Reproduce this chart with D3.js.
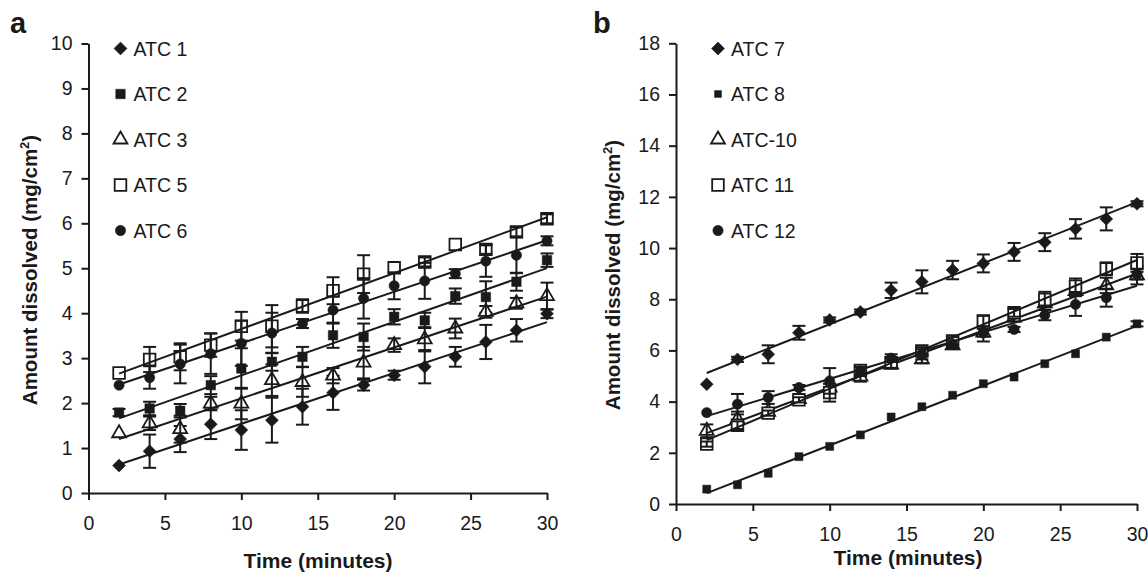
<!DOCTYPE html>
<html><head><meta charset="utf-8">
<script src="https://cdn.jsdelivr.net/npm/d3@7"></script>
<style>
html,body{margin:0;padding:0;background:#fff;}
svg text{font-family:"Liberation Sans",Arial,sans-serif;fill:#1a1a1a;}
</style></head>
<body><svg id="c" width="1148" height="573"></svg>
<script>
const times = [2,4,6,8,10,12,14,16,18,20,22,24,26,28,30];
const xTicks = [0,5,10,15,20,25,30];
const yTicksA = [0,1,2,3,4,5,6,7,8,9,10];
const yTicksB = [0,2,4,6,8,10,12,14,16,18];

// Panel a
const namesA = ["ATC 1","ATC 2","ATC 3","ATC 5","ATC 6"];
const atc1 = [0.61,0.93,1.2,1.53,1.4,1.62,1.92,2.23,2.4,2.62,2.81,3.03,3.36,3.62,3.99];
const atc1Err = [0.05,0.37,0.29,0.33,0.44,0.5,0.4,0.38,0.12,0.1,0.37,0.22,0.38,0.25,0.1];
const atc2 = [1.79,1.88,1.83,2.4,2.77,2.92,3.03,3.51,3.47,3.92,3.84,4.38,4.36,4.7,5.18];
const atc2Err = [0.08,0.15,0.15,0.2,0.45,0.2,0.22,0.28,0.3,0.17,0.17,0.17,0.35,0.2,0.15];
const atc3 = [1.33,1.55,1.42,1.99,1.99,2.51,2.47,2.61,2.9,3.29,3.42,3.66,4.03,4.22,4.38];
const atc3Err = [0.05,0.15,0.3,0.15,0.35,0.35,0.33,0.17,0.35,0.15,0.27,0.22,0.13,0.12,0.3];
const atc5 = [2.67,2.97,3.03,3.29,3.71,3.71,4.16,4.5,4.87,5.01,5.14,5.53,5.42,5.81,6.1];
const atc5Err = [0.05,0.28,0.3,0.26,0.32,0.47,0.15,0.3,0.42,0.05,0.1,0.05,0.1,0.1,0.1];
const atc6 = [2.4,2.57,2.87,3.1,3.33,3.56,3.77,4.07,4.33,4.61,4.72,4.88,5.16,5.29,5.61];
const atc6Err = [0.05,0.25,0.43,0.45,0.5,0.45,0.1,0.3,0.45,0.3,0.4,0.1,0.35,0.4,0.1];

// Panel b
const namesB = ["ATC 7","ATC 8","ATC-10","ATC 11","ATC 12"];
const atc7 = [4.68,5.65,5.85,6.69,7.19,7.5,8.35,8.68,9.14,9.4,9.85,10.23,10.75,11.14,11.73];
const atc7Err = [0.05,0.1,0.35,0.27,0.1,0.1,0.3,0.45,0.36,0.35,0.35,0.35,0.38,0.45,0.1];
const atc8 = [0.58,0.75,1.2,1.85,2.25,2.7,3.4,3.8,4.25,4.7,4.96,5.48,5.87,6.52,7.04];
const atc8Err = [0.03,0.03,0.03,0.03,0.03,0.03,0.03,0.03,0.03,0.03,0.03,0.03,0.03,0.03,0.1];
const atc10 = [2.86,3.31,3.6,4.1,4.55,4.98,5.45,5.65,6.2,6.7,7.28,7.84,8.32,8.54,8.93];
const atc10Err = [0.25,0.3,0.15,0.1,0.15,0.2,0.15,0.15,0.15,0.35,0.15,0.15,0.2,0.3,0.35];
const atc11 = [2.34,3.08,3.55,4.07,4.35,5.22,5.52,5.98,6.37,7.15,7.47,7.99,8.51,9.19,9.42];
const atc11Err = [0.1,0.15,0.1,0.1,0.35,0.15,0.2,0.15,0.15,0.2,0.15,0.3,0.3,0.25,0.35];
const atc12 = [3.57,3.9,4.16,4.55,4.81,5.2,5.7,5.85,6.24,6.69,6.82,7.38,7.8,8.06,8.97];
const atc12Err = [0.05,0.4,0.25,0.1,0.5,0.15,0.15,0.2,0.15,0.15,0.1,0.2,0.45,0.35,0.2];

const svg = d3.select("#c");
const INK = "#1a1a1a";

const shapes = {
  diamond: {type: d3.symbolSquare, size: 84, rot: 45, fill: INK},
  square: {type: d3.symbolSquare, size: 90, rot: 0, fill: INK},
  smallSquare: {type: d3.symbolSquare, size: 64, rot: 0, fill: INK},
  triangle: {type: d3.symbolTriangle, size: 84, rot: 0, fill: "#fff"},
  openSquare: {type: d3.symbolSquare, size: 135, rot: 0, fill: "#fff"},
  circle: {type: d3.symbolCircle, size: 84, rot: 0, fill: INK}
};

function drawMarker(g, shape, x, y, scale) {
  const s = shapes[shape];
  const k = scale || 1;
  g.append("path")
    .attr("d", d3.symbol().type(s.type).size(s.size * k)())
    .attr("transform", `translate(${x},${y}) rotate(${s.rot})`)
    .attr("fill", s.fill)
    .attr("stroke", INK)
    .attr("stroke-width", s.fill === "#fff" ? 1.8 : 0.5);
}

function fit(xs, ys) {
  const mx = d3.mean(xs), my = d3.mean(ys);
  let num = 0, den = 0;
  xs.forEach((x, i) => { num += (x - mx) * (ys[i] - my); den += (x - mx) * (x - mx); });
  const b = num / den;
  return {b, a: my - b * mx};
}

function panel(opt) {
  const x = d3.scaleLinear().domain([0, 30]).range(opt.xr);
  const y = d3.scaleLinear().domain([0, opt.ymax]).range(opt.yr);
  const g = svg.append("g");

  // axes
  const xa = g.append("g").attr("transform", `translate(0,${opt.yr[0]})`)
    .call(d3.axisBottom(x).tickValues(xTicks).tickSize(7).tickSizeOuter(0).tickPadding(16));
  const ya = g.append("g").attr("transform", `translate(${opt.xr[0]},0)`)
    .call(d3.axisLeft(y).tickValues(opt.yTicks).tickSize(7).tickSizeOuter(0).tickPadding(9));
  [xa, ya].forEach(a => {
    a.select(".domain").attr("stroke", INK).attr("stroke-width", 2);
    a.selectAll(".tick line").attr("stroke", INK).attr("stroke-width", 2);
    a.selectAll(".tick text").attr("font-size", 19.5).attr("fill", "#1a1a1a")
      .style("font-family", '"Liberation Sans",Arial,sans-serif');
  });

  // series
  opt.series.forEach(s => {
    const f = fit(times, s.v);
    s.v.forEach((v, i) => drawMarker(g, s.shape, x(times[i]), y(v)));
    g.append("line")
      .attr("x1", x(times[0])).attr("y1", y(f.a + f.b * times[0]))
      .attr("x2", x(times[times.length - 1])).attr("y2", y(f.a + f.b * times[times.length - 1]))
      .attr("stroke", INK).attr("stroke-width", 2);
    s.v.forEach((v, i) => {
      const e = s.e[i];
      if (e < 0.06) return;
      const cx = x(times[i]);
      const y1 = y(v + e), y2 = y(v - e);
      g.append("line").attr("x1", cx).attr("x2", cx).attr("y1", y1).attr("y2", y2)
        .attr("stroke", INK).attr("stroke-width", 2);
      [y1, y2].forEach(yy => g.append("line").attr("x1", cx - 6.5).attr("x2", cx + 6.5)
        .attr("y1", yy).attr("y2", yy).attr("stroke", INK).attr("stroke-width", 2));
    });
  });

  // legend
  opt.series.forEach((s, i) => {
    const ly = 48.5 + i * 45.5;
    drawMarker(g, s.shape, opt.legX, ly, s.shape === "smallSquare" ? 0.75 : 1);
    g.append("text").attr("x", opt.legX + 13).attr("y", ly).attr("dy", "0.36em")
      .attr("font-size", 19.5).text(opt.names[i]);
  });

  // titles
  g.append("text").attr("x", opt.xTitleX).attr("y", opt.xTitleY)
    .attr("text-anchor", "middle").attr("font-size", 21).attr("font-weight", "bold")
    .text("Time (minutes)");
  const yt = g.append("text").attr("transform", `translate(${opt.yTitleX},${opt.yTitleY}) rotate(-90)`)
    .attr("text-anchor", "middle").attr("font-size", 20.5).attr("font-weight", "bold");
  yt.append("tspan").text("Amount dissolved (mg/cm");
  yt.append("tspan").attr("font-size", 13).attr("dy", -8).text("2");
  yt.append("tspan").attr("dy", 8).text(")");
  g.append("text").attr("x", opt.tagX).attr("y", opt.tagY).attr("font-size", 29)
    .attr("font-weight", "bold").text(opt.tag);
}

panel({
  xr: [88.5, 547], yr: [493, 43.5], ymax: 10, yTicks: yTicksA,
  names: namesA, legX: 120.5,
  series: [
    {v: atc1, e: atc1Err, shape: "diamond"},
    {v: atc2, e: atc2Err, shape: "square"},
    {v: atc3, e: atc3Err, shape: "triangle"},
    {v: atc5, e: atc5Err, shape: "openSquare"},
    {v: atc6, e: atc6Err, shape: "circle"}
  ],
  xTitleX: 318, xTitleY: 568, yTitleX: 36.5, yTitleY: 270, tag: "a", tagX: 10, tagY: 33
});

panel({
  xr: [676, 1137], yr: [504, 43.3], ymax: 18, yTicks: yTicksB,
  names: namesB, legX: 718,
  series: [
    {v: atc7, e: atc7Err, shape: "diamond"},
    {v: atc8, e: atc8Err, shape: "smallSquare"},
    {v: atc10, e: atc10Err, shape: "triangle"},
    {v: atc11, e: atc11Err, shape: "openSquare"},
    {v: atc12, e: atc12Err, shape: "circle"}
  ],
  xTitleX: 908, xTitleY: 565, yTitleX: 620, yTitleY: 275, tag: "b", tagX: 593, tagY: 33
});
</script></body></html>
